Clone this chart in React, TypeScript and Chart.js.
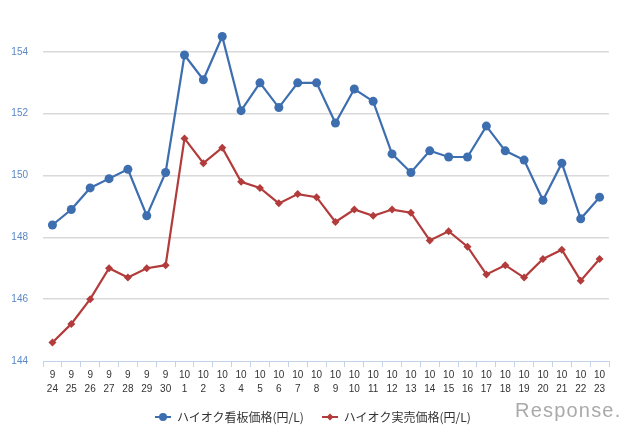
import React, { useEffect, useRef } from "react";
import { Chart, registerables } from "chart.js";

Chart.register(...registerables);

const months = ["9","9","9","9","9","9","9","10","10","10","10","10","10","10","10","10","10","10","10","10","10","10","10","10","10","10","10","10","10","10"];
const days = ["24","25","26","27","28","29","30","1","2","3","4","5","6","7","8","9","10","11","12","13","14","15","16","17","18","19","20","21","22","23"];

const signPrice = [148.4,148.9,149.6,149.9,150.2,148.7,150.1,153.9,153.1,154.5,152.1,153.0,152.2,153.0,153.0,151.7,152.8,152.4,150.7,150.1,150.8,150.6,150.6,151.6,150.8,150.5,149.2,150.4,148.6,149.3];
const actualPrice = [144.6,145.2,146.0,147.0,146.7,147.0,147.1,151.2,150.4,150.9,149.8,149.6,149.1,149.4,149.3,148.5,148.9,148.7,148.9,148.8,147.9,148.2,147.7,146.8,147.1,146.7,147.3,147.6,146.6,147.3];

const yTicks = [144, 146, 148, 150, 152, 154];

const seriesNames = ["ハイオク看板価格(円/L)", "ハイオク実売価格(円/L)"];
const BLUE = "#3d6eb0";
const RED = "#b23b3b";

export default function App() {
  const ref = useRef<HTMLCanvasElement | null>(null);
  useEffect(() => {
    if (!ref.current) return;
    const labels = months.map((m, i) => [m, days[i]]);
    const chart = new Chart(ref.current, {
      type: "line",
      data: {
        labels,
        datasets: [
          {
            label: seriesNames[0],
            data: signPrice,
            borderColor: BLUE,
            backgroundColor: BLUE,
            borderWidth: 2.2,
            pointRadius: 4.5,
            pointStyle: "circle",
            pointBorderWidth: 0,
            tension: 0,
          },
          {
            label: seriesNames[1],
            data: actualPrice,
            borderColor: RED,
            backgroundColor: RED,
            borderWidth: 2.2,
            pointRadius: 4,
            pointStyle: "rectRot",
            pointBorderWidth: 0,
            tension: 0,
          },
        ],
      },
      options: {
        animation: false,
        responsive: false,
        layout: { padding: { top: 20, right: 31, left: 0, bottom: 0 } },
        plugins: { legend: { display: false }, tooltip: { enabled: false } },
        scales: {
          x: {
            offset: true,
            border: { display: true, color: "#c3d3e8", width: 1 },
            grid: {
              display: true,
              offset: true,
              drawOnChartArea: false,
              drawTicks: true,
              tickLength: 6,
              color: "#c3d3e8",
            },
            ticks: {
              color: "#333333",
              font: { size: 10, family: "'Liberation Sans', Arial, sans-serif", lineHeight: 1.4 },
              padding: 1,
              maxRotation: 0,
              autoSkip: false,
            },
            afterFit: (s: any) => { s.height = 76; },
          },
          y: {
            min: 144,
            max: 155,
            border: { display: false },
            grid: {
              drawTicks: false,
              color: (ctx: any) => (ctx.tick && ctx.tick.value === 144 ? "rgba(0,0,0,0)" : "#d9d9d9"),
              lineWidth: 1.5,
            },
            ticks: {
              color: "#5a87c5",
              font: { size: 10, family: "'Liberation Sans', Arial, sans-serif" },
              padding: 15,
            },
            afterBuildTicks: (s: any) => { s.ticks = yTicks.map((v) => ({ value: v })); },
            afterFit: (s: any) => { s.width = 43; },
          },
        },
      },
    });
    return () => chart.destroy();
  }, []);

  const legendItem = (color: string, shape: "circle" | "diamond", text: string, mr: number) => (
    <span style={{ display: "inline-flex", alignItems: "center", marginRight: mr }}>
      <svg width="16" height="10" style={{ marginRight: 6 }}>
        <line x1="0" y1="5" x2="16" y2="5" stroke={color} strokeWidth="2" />
        {shape === "circle" ? (
          <circle cx="8" cy="5" r="4" fill={color} />
        ) : (
          <polygon points="8,1.5 11.5,5 8,8.5 4.5,5" fill={color} />
        )}
      </svg>
      <span>{text}</span>
    </span>
  );

  return (
    <div style={{ position: "fixed", left: 0, top: 0, width: 640, height: 437, background: "#fff", overflow: "hidden" }}>
      <canvas ref={ref} width={640} height={437} style={{ position: "absolute", left: 0, top: 0, width: 640, height: 437 }} />
      <div
        style={{
          position: "absolute",
          left: 155,
          top: 409,
          fontFamily: "'Noto Sans CJK JP', sans-serif",
          fontSize: 12,
          lineHeight: "16px",
          color: "#333",
          display: "flex",
          alignItems: "center",
          whiteSpace: "nowrap",
        }}
      >
        {legendItem(BLUE, "circle", seriesNames[0], 18)}
        {legendItem(RED, "diamond", seriesNames[1], 0)}
      </div>
      <div
        style={{
          position: "absolute",
          left: 515,
          top: 400,
          fontFamily: "'Liberation Sans', Arial, sans-serif",
          fontSize: 20,
          lineHeight: "20px",
          color: "#aaaaaa",
          letterSpacing: 1.2,
        }}
      >
        Response.
      </div>
    </div>
  );
}
